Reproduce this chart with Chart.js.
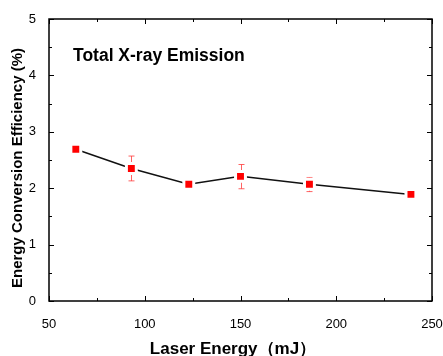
<!DOCTYPE html>
<html>
<head>
<meta charset="utf-8">
<script src="https://cdn.jsdelivr.net/npm/chart.js@4"></script>
<style>
  html, body { margin: 0; padding: 0; background: #fff; }
  #wrap { width: 443px; height: 356px; position: relative; }
</style>
</head>
<body>
<div id="wrap"><canvas id="xray-chart"></canvas></div>
<script>
// Data
const laserEnergy = [64, 93, 123, 150, 186, 239];
const efficiency = [2.69, 2.35, 2.07, 2.21, 2.07, 1.89];
const errUp = [0, 0.22, 0, 0.21, 0.12, 0];
const errDown = [0, 0.22, 0, 0.22, 0.13, 0];
const xTicks = [50, 100, 150, 200, 250];
const yTicks = [0, 1, 2, 3, 4, 5];

const FONT = "'Liberation Sans', Arial, sans-serif";

// inward ticks on all four sides + frame + error bars + texts
const framePlugin = {
  id: "frame",
  beforeDatasetsDraw(chart) {
    const ctx = chart.ctx;
    const xs = chart.scales.x, ys = chart.scales.y;
    ctx.save();
    ctx.strokeStyle = "rgba(255,60,60,0.8)";
    ctx.lineWidth = 1;
    laserEnergy.forEach((x, i) => {
      if (!errUp[i] && !errDown[i]) return;
      const px = Math.round(xs.getPixelForValue(x)) + 0.5;
      const top = ys.getPixelForValue(efficiency[i] + errUp[i]);
      const bot = ys.getPixelForValue(efficiency[i] - errDown[i]);
      ctx.beginPath();
      ctx.moveTo(px, top); ctx.lineTo(px, bot);
      ctx.moveTo(px - 3, top); ctx.lineTo(px + 3, top);
      ctx.moveTo(px - 3, bot); ctx.lineTo(px + 3, bot);
      ctx.stroke();
    });
    ctx.restore();
  },
  afterDraw(chart) {
    const ctx = chart.ctx;
    const a = chart.chartArea;
    const xs = chart.scales.x, ys = chart.scales.y;
    ctx.save();
    ctx.strokeStyle = "#000";
    ctx.lineWidth = 1.5;
    ctx.strokeRect(a.left, a.top, a.right - a.left, a.bottom - a.top);
    ctx.lineWidth = 1;
    ctx.beginPath();
    for (let v = 50; v <= 250; v += 25) {
      const px = Math.round(xs.getPixelForValue(v)) + 0.5;
      const len = v % 50 === 0 ? 5 : 3;
      ctx.moveTo(px, a.bottom); ctx.lineTo(px, a.bottom - len);
      ctx.moveTo(px, a.top); ctx.lineTo(px, a.top + len);
    }
    for (let v = 0; v <= 5; v += 0.5) {
      const py = Math.round(ys.getPixelForValue(v)) + 0.5;
      const len = v % 1 === 0 ? 5 : 3;
      ctx.moveTo(a.left, py); ctx.lineTo(a.left + len, py);
      ctx.moveTo(a.right, py); ctx.lineTo(a.right - len, py);
    }
    ctx.stroke();

    ctx.fillStyle = "#000";
    ctx.font = "bold 17.5px " + FONT;
    ctx.textAlign = "left";
    ctx.textBaseline = "middle";
    ctx.fillText("Total X-ray Emission", 73, 56);

    ctx.textAlign = "center";
    ctx.font = "bold 17px " + FONT;
    ctx.fillText("Laser Energy（mJ）", 233, 349);

    ctx.translate(18, 168);
    ctx.rotate(-Math.PI / 2);
    ctx.font = "bold 15px " + FONT;
    ctx.fillText("Energy Conversion Efficiency (%)", 0, 0);
    ctx.restore();
  }
};

new Chart(document.getElementById("xray-chart").getContext("2d"), {
  type: "scatter",
  data: {
    datasets: [
      {
        label: "CE",
        data: laserEnergy.map((x, i) => ({ x: x, y: efficiency[i] })),
        showLine: true,
        borderColor: "#111",
        borderWidth: 1.5,
        pointStyle: "rect",
        pointRadius: 7,
        pointBackgroundColor: "#ff0000",
        pointBorderColor: "#fff",
        pointBorderWidth: 3,
      },
    ],
  },
  options: {
    responsive: true,
    maintainAspectRatio: false,
    animation: false,
    layout: { padding: { top: 19, right: 11, left: 0, bottom: 0 } },
    plugins: { legend: { display: false }, tooltip: { enabled: false } },
    scales: {
      x: {
        type: "linear",
        min: 50,
        max: 250,
        afterFit: (s) => { s.height = 55; s.paddingLeft = 0; s.paddingRight = 0; },
        afterBuildTicks: (s) => { s.ticks = xTicks.map((v) => ({ value: v })); },
        grid: { display: false },
        border: { display: false },
        ticks: { color: "#000", padding: 8, font: { family: FONT, size: 13 } },
      },
      y: {
        min: 0,
        max: 5,
        afterFit: (s) => { s.width = 49; s.paddingTop = 0; s.paddingBottom = 0; },
        afterBuildTicks: (s) => { s.ticks = yTicks.map((v) => ({ value: v })); },
        grid: { display: false },
        border: { display: false },
        ticks: { color: "#000", padding: 5, font: { family: FONT, size: 13 } },
      },
    },
  },
  plugins: [framePlugin],
});
</script>
</body>
</html>
